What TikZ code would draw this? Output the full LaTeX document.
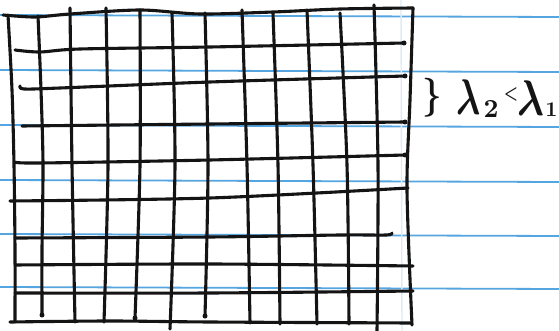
\documentclass[tikz,border=0pt]{standalone}
\definecolor{ruleblue}{RGB}{85,165,225}
\definecolor{margin}{RGB}{222,234,246}
\tikzset{
  pen/.style={line width=3.1pt, line cap=round, line join=round, black!92},
  ruled/.style={line width=1.8pt, ruleblue},
  inkdot/.style={fill=black!92, draw=none},
  hand/.style={inner sep=0pt, black!92, font=\boldmath}
}
\begin{document}
\begin{tikzpicture}[x=1pt,y=-1pt]
\useasboundingbox (0,0) rectangle (559,331);
\fill[white] (0,0) rectangle (559,331);
% notebook ruling
\foreach \yy in {15,70,125,180,234,287}
  \draw[ruled] (0,\yy) -- (559,\yy+2);
\draw[line width=1.4pt, margin] (401,0) -- (402,331);
% vertical grid lines
\draw[pen] plot[smooth] coordinates {(8,15) (12,90) (14,165) (15,250) (15,322)};
\draw[pen] plot[smooth] coordinates {(38,16) (41,90) (43,165) (42,250) (42,315)};
\draw[pen] plot[smooth] coordinates {(70,8) (72,165) (75,322)};
\draw[pen] plot[smooth] coordinates {(106,8) (108,165) (104,322)};
\draw[pen] plot[smooth] coordinates {(140,10) (140,165) (135,318)};
\draw[pen] plot[smooth] coordinates {(172,13) (175,165) (170,329)};
\draw[pen] plot[smooth] coordinates {(205,13) (208,165) (205,316)};
\draw[pen] plot[smooth] coordinates {(242,10) (247,165) (250,323)};
\draw[pen] plot[smooth] coordinates {(273,13) (278,165) (280,324)};
\draw[pen] plot[smooth] coordinates {(307,10) (313,165) (317,324)};
\draw[pen] plot[smooth] coordinates {(340,13) (347,165) (349,324)};
\draw[pen] plot[smooth] coordinates {(374,5) (378,165) (377,331)};
\draw[pen] plot[smooth] coordinates {(413,8) (410,100) (407,190) (412,325)};
% horizontal grid lines
\draw[pen] plot[smooth] coordinates {(3,15) (35,17) (70,14) (140,10) (200,14) (273,12) (340,9) (413,8)};
\draw[pen] plot[smooth] coordinates {(15,50) (40,52) (80,49) (210,47) (404,43)};
\draw[pen] plot[smooth] coordinates {(20,86) (24,89) (60,88) (210,82) (405,76)};
\draw[pen] plot[smooth] coordinates {(22,126) (210,124) (405,122)};
\draw[pen] plot[smooth] coordinates {(15,162) (40,163) (210,160) (405,155)};
\draw[pen] plot[smooth] coordinates {(10,201) (210,198) (408,188)};
\draw[pen] plot[smooth] coordinates {(15,238) (210,237) (340,235) (386,235) (392,233)};
\draw[pen] plot[smooth] coordinates {(15,265) (210,264) (413,266)};
\draw[pen] plot[smooth] coordinates {(15,293) (210,293) (413,291)};
\draw[pen] plot[smooth] coordinates {(10,322) (110,321) (210,322) (411,323)};
% pen dots
\foreach \px/\py in {404/43,405/76,405/122,405/155,42/315,135/318,205/316}
  \fill[inkdot] (\px,\py) circle (2.5);
% label
\node[hand, xscale=3.4, yscale=3.9] (brace) at (432,98) {$\}$};
\node[hand, xscale=3.6, yscale=5.0] (lamtwo) at (469,97) {$\lambda$};
\node[hand, scale=2.6] (subtwo) at (491,109) {$2$};
\node[hand, xscale=1.6, yscale=2.0] (less) at (511,95) {$<$};
\node[hand, xscale=4.0, yscale=5.0] (lamone) at (531,98) {$\lambda$};
\node[hand, scale=2.1, anchor=west] (subone) at (545,110) {$1$};
\end{tikzpicture}
\end{document}
